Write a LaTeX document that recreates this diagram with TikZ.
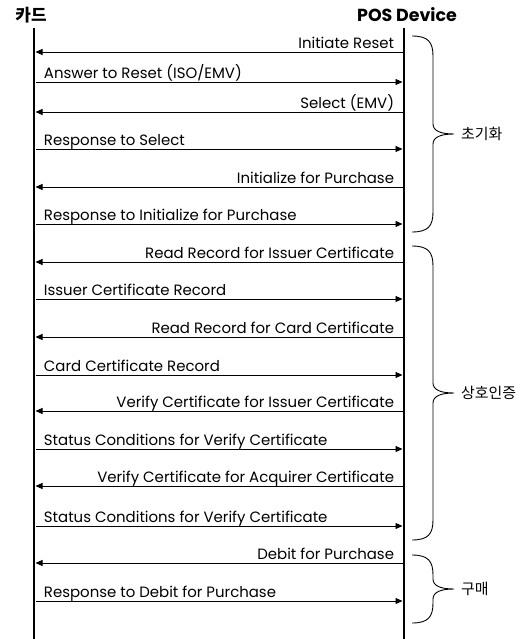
\documentclass[tikz,border=0pt]{standalone}
\usepackage{fontspec}
\setmainfont{Poppins}
\newfontfamily\kor{Noto Sans CJK KR}
\usetikzlibrary{arrows.meta,positioning}

\begin{document}
\begin{tikzpicture}[x=1bp,y=-1bp,>={Triangle[length=7bp,width=6bp]},
    lifeline/.style={line width=2.6bp},
    msg/.style={->,line width=0.9bp},
    tol/.style={pos=0,anchor=base east,xshift=-8bp,yshift=3.5bp,inner sep=0pt,font=\fontsize{15}{17}\selectfont},
    tor/.style={pos=0,anchor=base west,xshift=8bp,yshift=3.5bp,inner sep=0pt,font=\fontsize{15}{17}\selectfont},
    grp/.style={line width=0.9bp},
    grplbl/.style={inner sep=0pt,font=\kor\fontsize{15}{17}\selectfont}]
\useasboundingbox (0,0) rectangle (532,639);

% heads
\node[font=\kor\bfseries\fontsize{17}{19}\selectfont](card)at(31, 15){카드};
\node[font=\bfseries\fontsize{17.5}{19}\selectfont](pos)at(407, 15){POS Device};
\coordinate (card-top) at (34, 28);
\coordinate (card-end) at (34, 639);
\coordinate (pos-top) at (404, 28);
\coordinate (pos-end) at (404, 639);
\draw[lifeline] (card-top) -- (card-end);
\draw[lifeline] (pos-top) -- (pos-end);

% message rows
\foreach \i/\y in {1/52,2/82,3/112,4/149,5/187,6/224,7/262,8/299,
                   9/337,10/375,11/411,12/449,13/486,14/526,15/563,16/601}{
    \coordinate (c\i) at (35.5, \y);
    \coordinate (p\i) at (402.5, \y);
}
\path (p1) edge[msg] node[tol] {Initiate Reset} (c1)
      (c2) edge[msg] node[tor] {Answer to Reset (ISO/EMV)} (p2)
      (p3) edge[msg] node[tol] {Select (EMV)} (c3)
      (c4) edge[msg] node[tor] {Response to Select} (p4)
      (p5) edge[msg] node[tol] {Initialize for Purchase} (c5)
      (c6) edge[msg] node[tor] {Response to Initialize for Purchase} (p6)
      (p7) edge[msg] node[tol] {Read Record for Issuer Certificate} (c7)
      (c8) edge[msg] node[tor] {Issuer Certificate Record} (p8)
      (p9) edge[msg] node[tol] {Read Record for Card Certificate} (c9)
      (c10) edge[msg] node[tor] {Card Certificate Record} (p10)
      (p11) edge[msg] node[tol] {Verify Certificate for Issuer Certificate} (c11)
      (c12) edge[msg] node[tor] {Status Conditions for Verify Certificate} (p12)
      (p13) edge[msg] node[tol] {Verify Certificate for Acquirer Certificate} (c13)
      (c14) edge[msg] node[tor] {Status Conditions for Verify Certificate} (p14)
      (p15) edge[msg] node[tol] {Debit for Purchase} (c15)
      (c16) edge[msg] node[tor] {Response to Debit for Purchase} (p16);

% phase braces
\foreach \t/\b/\n/\txt in {36/232/init/초기화, 246/540/auth/상호인증, 555/623/buy/구매}{
    \pgfmathsetmacro\m{(\t+\b)/2}
    \coordinate (\n) at (454, \m);
    \draw[grp] (412, \t) .. controls (428, \t) and (433, \t+6) .. (433, \t+20)
        -- (433, \m-10) .. controls (433, \m-3) and (441, \m) .. (\n)
        .. controls (441, \m) and (433, \m+3) .. (433, \m+10)
        -- (433, \b-20) .. controls (433, \b-6) and (428, \b) .. (412, \b);
    \node[grplbl, right=7bp of \n] (\n-lbl) {\txt};
}
\end{tikzpicture}
\end{document}
